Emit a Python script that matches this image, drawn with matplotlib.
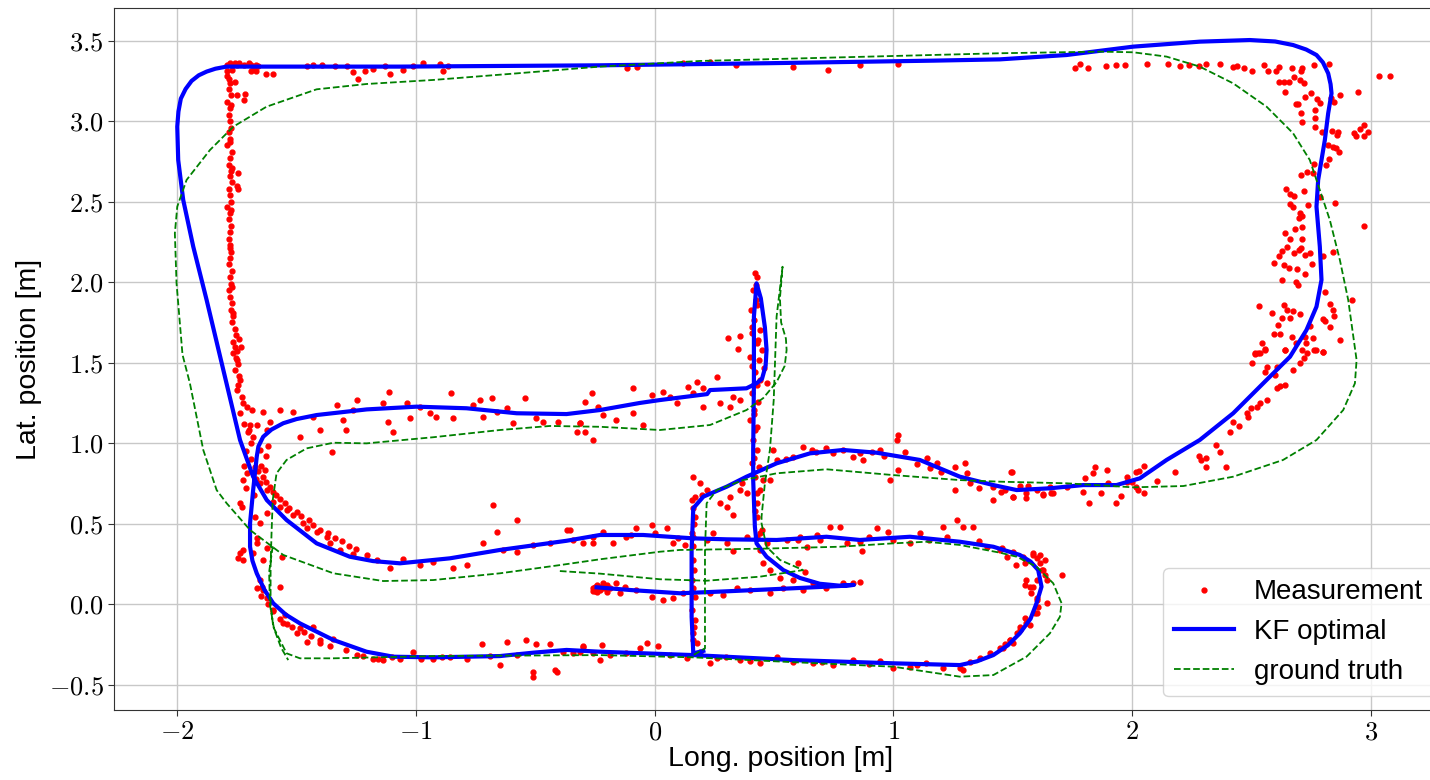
import numpy as np
import matplotlib
matplotlib.use('Agg')
import matplotlib.pyplot as plt

plt.rcParams['mathtext.fontset'] = 'cm'
plt.rcParams['font.family'] = ['Liberation Sans', 'DejaVu Sans']

# KF optimal estimate (blue), traced in driving order
kf_path = [
    (-0.243, 0.105), (-0.10, 0.088), (0.106, 0.068), (0.30, 0.080), (0.58, 0.099), (0.776, 0.113), (0.835, 0.12),
    (0.776, 0.115), (0.692, 0.127), (0.609, 0.163), (0.539, 0.212), (0.469, 0.295), (0.427, 0.378), (0.42, 0.482),
    (0.413, 0.771), (0.413, 0.958), (0.416, 1.372), (0.416, 1.786), (0.427, 1.993), (0.445, 1.90), (0.462, 1.72),
    (0.469, 1.58), (0.465, 1.48), (0.45, 1.40), (0.427, 1.372),
    (0.385, 1.341), (0.232, 1.33), (0.22, 1.305), (0.022, 1.268), (-0.062, 1.25), (-0.229, 1.206), (-0.369, 1.181),
    (-0.578, 1.186), (-0.788, 1.217), (-0.997, 1.227), (-1.206, 1.21), (-1.416, 1.175), (-1.50, 1.15),
    (-1.556, 1.124), (-1.605, 1.085), (-1.64, 1.04), (-1.66, 0.98), (-1.667, 0.916), (-1.682, 0.709),
    (-1.695, 0.503), (-1.695, 0.357), (-1.685, 0.27), (-1.667, 0.192), (-1.635, 0.09), (-1.598, 0.006),
    (-1.545, -0.065), (-1.486, -0.119), (-1.346, -0.222), (-1.207, -0.295), (-1.095, -0.326), (-0.928, -0.33),
    (-0.648, -0.322), (-0.509, -0.301), (-0.369, -0.284), (-0.229, -0.295), (0.162, -0.316), (0.581, -0.347),
    (1.0, -0.367), (1.279, -0.378), (1.35, -0.355), (1.419, -0.316), (1.48, -0.255), (1.53, -0.181),
    (1.575, -0.09), (1.60, 0.006), (1.621, 0.109), (1.607, 0.212), (1.575, 0.265), (1.53, 0.306),
    (1.419, 0.357), (1.279, 0.388), (1.07, 0.419), (0.86, 0.399), (0.72, 0.419), (0.511, 0.399),
    (0.302, 0.403), (0.162, 0.409), (-0.048, 0.43), (-0.229, 0.43), (-0.369, 0.394), (-0.648, 0.337),
    (-0.858, 0.285), (-1.067, 0.254), (-1.18, 0.268), (-1.277, 0.295), (-1.416, 0.378), (-1.542, 0.523),
    (-1.625, 0.647), (-1.682, 0.792), (-1.737, 1.02), (-1.807, 1.455), (-1.877, 1.89), (-1.933, 2.221),
    (-1.975, 2.511), (-1.996, 2.759), (-2.0, 2.966), (-1.995, 3.06), (-1.985, 3.14), (-1.965, 3.2),
    (-1.94, 3.25), (-1.91, 3.285), (-1.877, 3.308), (-1.84, 3.326), (-1.793, 3.339),
    (-1.067, 3.339), (-0.229, 3.347), (0.469, 3.36), (1.167, 3.376), (1.447, 3.384), (1.726, 3.411),
    (2.005, 3.463), (2.284, 3.494), (2.494, 3.504), (2.60, 3.495), (2.675, 3.473), (2.73, 3.445),
    (2.773, 3.411), (2.80, 3.365), (2.822, 3.297), (2.832, 3.23),
    (2.836, 3.173), (2.822, 3.049), (2.808, 2.883), (2.78, 2.635), (2.773, 2.469), (2.787, 2.221),
    (2.794, 2.014), (2.773, 1.848), (2.731, 1.703), (2.662, 1.537), (2.564, 1.393), (2.424, 1.186),
    (2.284, 1.02), (2.145, 0.896), (2.033, 0.782), (1.935, 0.74), (1.796, 0.74), (1.656, 0.72), (1.517, 0.709),
    (1.419, 0.74), (1.279, 0.792), (1.111, 0.896), (0.93, 0.941), (0.79, 0.958), (0.651, 0.937), (0.511, 0.875),
    (0.385, 0.792), (0.302, 0.73), (0.204, 0.668), (0.162, 0.596), (0.155, 0.337), (0.155, -0.078),
    (0.162, -0.305), (0.204, -0.29),
]

# ground truth (green dashed)
gt_main = [
    (-0.397, 0.206), (-0.229, 0.19), (0.022, 0.155), (0.218, 0.146), (0.441, 0.171), (0.622, 0.212),
    (0.525, 0.275), (0.469, 0.357), (0.448, 0.502), (0.448, 0.544), (0.462, 0.751), (0.483, 0.958),
    (0.499, 1.268), (0.506, 1.579), (0.511, 1.786), (0.536, 2.096), (0.525, 1.90), (0.53, 1.75), (0.55, 1.65),
    (0.553, 1.579), (0.545, 1.48), (0.511, 1.38), (0.455, 1.28), (0.385, 1.206), (0.232, 1.113), (0.022, 1.082),
    (-0.229, 1.102), (-0.439, 1.107), (-0.648, 1.082), (-0.928, 1.037), (-1.207, 0.999), (-1.346, 1.003),
    (-1.458, 0.968), (-1.542, 0.896), (-1.584, 0.813), (-1.60, 0.647), (-1.605, 0.44), (-1.609, 0.233),
    (-1.609, 0.006), (-1.598, -0.14), (-1.542, -0.305), (-1.486, -0.336), (-1.346, -0.336), (-0.928, -0.322),
    (-0.229, -0.316), (0.162, -0.33), (0.581, -0.36), (1.0, -0.388), (1.139, -0.419), (1.279, -0.45),
    (1.419, -0.44), (1.558, -0.326), (1.656, -0.181), (1.698, -0.078), (1.705, 0.006), (1.67, 0.13),
    (1.60, 0.233), (1.517, 0.295), (1.447, 0.32), (1.279, 0.368), (1.139, 0.388), (1.0, 0.378), (0.776, 0.357),
    (0.45, 0.345), (0.106, 0.337), (0.022, 0.326), (-0.229, 0.279), (-0.397, 0.243), (-0.648, 0.192),
    (-0.928, 0.15), (-1.137, 0.144), (-1.346, 0.192), (-1.556, 0.306), (-1.695, 0.461), (-1.793, 0.627),
    (-1.835, 0.709), (-1.891, 0.958), (-1.947, 1.372), (-1.978, 1.55), (-2.003, 1.993), (-2.01, 2.304),
    (-2.0, 2.469), (-1.961, 2.635), (-1.863, 2.821), (-1.765, 2.966), (-1.626, 3.09), (-1.416, 3.198),
    (-1.207, 3.231), (-0.928, 3.256), (-0.578, 3.297), (-0.229, 3.339), (0.19, 3.374), (0.888, 3.401),
    (1.447, 3.422), (1.866, 3.432), (2.005, 3.428), (2.145, 3.401), (2.284, 3.339), (2.424, 3.235),
    (2.564, 3.09), (2.675, 2.925), (2.745, 2.759), (2.787, 2.573), (2.829, 2.386), (2.871, 2.138),
    (2.906, 1.889), (2.941, 1.517), (2.934, 1.372), (2.885, 1.206), (2.773, 1.02), (2.633, 0.896),
    (2.424, 0.792), (2.215, 0.734), (2.005, 0.726), (1.726, 0.751), (1.447, 0.761), (1.279, 0.771),
    (1.0, 0.802), (0.72, 0.838), (0.511, 0.813), (0.371, 0.771), (0.26, 0.709), (0.218, 0.627),
    (0.211, 0.337), (0.211, -0.078), (0.211, -0.274), (0.162, -0.316),
]
gt_stub = [(-1.60, 0.36), (-1.615, 0.2), (-1.612, 0.0), (-1.595, -0.15), (-1.565, -0.27), (-1.535, -0.347)]

# measurements (red dots), grouped by stretch of track
meas_left_col = [
    (-1.79, 3.28), (-1.78, 3.24), (-1.785, 3.2), (-1.775, 3.16), (-1.79, 3.12), (-1.78, 3.08), (-1.785, 3.04),
    (-1.78, 3.0), (-1.775, 2.96), (-1.785, 2.93), (-1.78, 2.89), (-1.79, 2.85), (-1.77, 2.81), (-1.78, 2.77),
    (-1.785, 2.73), (-1.775, 2.69), (-1.78, 2.66), (-1.77, 2.62), (-1.785, 2.58), (-1.78, 2.54), (-1.775, 2.5),
    (-1.79, 2.47), (-1.78, 2.43), (-1.785, 2.39), (-1.775, 2.35), (-1.78, 2.31), (-1.785, 2.27), (-1.78, 2.23),
    (-1.775, 2.19), (-1.78, 2.15), (-1.785, 2.11), (-1.77, 2.07), (-1.78, 2.03), (-1.775, 1.99), (-1.785, 1.95),
    (-1.78, 1.91), (-1.77, 1.87), (-1.775, 1.83), (-1.765, 1.79), (-1.77, 1.75), (-1.76, 1.71), (-1.755, 1.67),
    (-1.765, 1.63), (-1.76, 1.6), (-1.75, 1.57), (-1.755, 1.53), (-1.745, 2.68), (-1.75, 2.6), (-1.745, 2.58),
    (-1.74, 1.65), (-1.735, 1.6), (-1.76, 3.245), (-1.75, 3.16), (-1.72, 3.13), (-1.716, 3.17),
    (-1.765, 1.558), (-1.751, 1.517), (-1.758, 1.455), (-1.737, 1.393), (-1.751, 1.331), (-1.73, 1.29),
    (-1.723, 1.248), (-1.737, 1.186), (-1.709, 1.227), (-1.688, 1.206), (-1.695, 1.113), (-1.702, 1.072),
    (-1.785, 3.26), (-1.775, 3.1), (-1.78, 2.87), (-1.77, 2.71), (-1.775, 2.45), (-1.78, 2.21), (-1.77, 1.97),
    (-1.765, 1.81), (-1.745, 1.49), (-1.74, 1.42), (-1.745, 1.36),
]
meas_top = [
    (-1.79, 3.35), (-1.78, 3.36), (-1.77, 3.35), (-1.76, 3.36), (-1.75, 3.35), (-1.74, 3.36), (-1.72, 3.35),
    (-1.70, 3.36), (-1.69, 3.35), (-1.68, 3.33), (-1.67, 3.35), (-1.66, 3.34), (-1.79, 3.31), (-1.77, 3.32),
    (-1.69, 3.31), (-1.67, 3.31), (-1.63, 3.29), (-1.60, 3.29),
    (-1.457, 3.345), (-1.43, 3.35), (-1.395, 3.35), (-1.339, 3.345), (-1.29, 3.345), (-1.263, 3.308),
    (-1.242, 3.262), (-1.214, 3.31), (-1.179, 3.325), (-1.13, 3.345), (-1.109, 3.29), (-1.053, 3.318),
    (-1.011, 3.345), (-0.969, 3.36), (-0.9, 3.355), (-0.886, 3.31), (-0.865, 3.34),
    (-0.117, 3.328), (-0.075, 3.339), (0.12, 3.36), (0.232, 3.366), (0.343, 3.35), (0.581, 3.339),
    (0.725, 3.318), (0.86, 3.349), (1.018, 3.353),
]
meas_top_right = [
    (1.761, 3.333), (1.782, 3.353), (1.814, 3.331), (1.891, 3.345), (1.933, 3.349), (1.97, 3.349),
    (2.065, 3.353), (2.152, 3.355), (2.20, 3.345), (2.24, 3.349), (2.282, 3.343), (2.31, 3.355),
    (2.368, 3.353), (2.424, 3.335), (2.44, 3.345), (2.47, 3.33), (2.503, 3.314), (2.554, 3.349),
    (2.568, 3.312), (2.605, 3.312), (2.617, 3.339), (2.671, 3.333), (2.714, 3.33), (2.71, 3.31),
    (2.763, 3.349), (2.826, 3.355), (2.614, 3.241), (2.635, 3.245), (2.656, 3.245), (2.677, 3.276),
    (2.705, 3.255), (2.719, 3.235), (2.64, 3.181), (2.687, 3.105), (2.697, 3.105), (2.723, 3.148),
    (2.751, 3.173), (2.775, 3.138), (2.789, 3.11), (2.768, 3.069), (2.71, 3.053), (2.713, 2.997),
    (2.768, 3.018), (2.765, 2.962), (2.834, 3.142), (2.848, 3.12), (2.871, 3.161), (2.947, 3.179),
    (3.036, 3.283), (3.08, 3.283),
]
meas_right = [
    (2.797, 2.931), (2.839, 2.939), (2.864, 2.935), (2.861, 2.914), (2.931, 2.929), (2.955, 2.95),
    (2.971, 2.976), (2.989, 2.935), (2.937, 2.91), (2.972, 2.906), (2.82, 2.852), (2.841, 2.842),
    (2.855, 2.831), (2.869, 2.811), (2.824, 2.763), (2.813, 2.728), (2.764, 2.735), (2.732, 2.682),
    (2.708, 2.666), (2.757, 2.676), (2.787, 2.531), (2.85, 2.494), (2.722, 2.566), (2.645, 2.577),
    (2.66, 2.546), (2.677, 2.535), (2.663, 2.485), (2.674, 2.465), (2.737, 2.482), (2.705, 2.428),
    (2.714, 2.412), (2.698, 2.397), (2.642, 2.307), (2.684, 2.328), (2.712, 2.345), (2.97, 2.351),
    (2.66, 2.266), (2.712, 2.268), (2.649, 2.221), (2.628, 2.196), (2.677, 2.18), (2.698, 2.2),
    (2.71, 2.211), (2.726, 2.17), (2.747, 2.18), (2.614, 2.163), (2.597, 2.118), (2.635, 2.108),
    (2.656, 2.087), (2.691, 2.08), (2.756, 2.114), (2.726, 2.051), (2.628, 2.014), (2.687, 2.003),
    (2.694, 1.983), (2.80, 2.163), (2.841, 2.186), (2.809, 1.941), (2.92, 1.889), (2.533, 1.852),
    (2.585, 1.807), (2.635, 1.858), (2.649, 1.827), (2.674, 1.823), (2.705, 1.803), (2.83, 1.864),
    (2.841, 1.827), (2.848, 1.79), (2.81, 1.761), (2.80, 1.772), (2.61, 1.734), (2.627, 1.776),
    (2.663, 1.78), (2.595, 1.676), (2.62, 1.676), (2.672, 1.658), (2.745, 1.728), (2.83, 1.724),
    (2.871, 1.641), (2.723, 1.662), (2.759, 1.651), (2.543, 1.624), (2.526, 1.562), (2.515, 1.554),
    (2.559, 1.583), (2.64, 1.579), (2.688, 1.62), (2.73, 1.624), (2.77, 1.579), (2.80, 1.568), (2.72, 1.532),
]
meas_lower_right = [
    (2.517, 1.562), (2.538, 1.558), (2.559, 1.579), (2.503, 1.496), (2.565, 1.475), (2.559, 1.444),
    (2.606, 1.475), (2.599, 1.424), (2.643, 1.579), (2.713, 1.579), (2.733, 1.562), (2.761, 1.579),
    (2.80, 1.569), (2.703, 1.496), (2.675, 1.455), (2.64, 1.361), (2.622, 1.355), (2.606, 1.341),
    (2.564, 1.268), (2.536, 1.248), (2.522, 1.223), (2.50, 1.217), (2.48, 1.19), (2.487, 1.165),
    (2.449, 1.107), (2.424, 1.134), (2.41, 1.072), (2.354, 0.989), (2.368, 0.947), (2.394, 0.854),
    (2.312, 0.906), (2.28, 0.92), (2.29, 0.895), (2.312, 0.854), (2.18, 0.823), (2.103, 0.765),
    (2.052, 0.858), (2.03, 0.83), (2.017, 0.823), (1.98, 0.792), (1.98, 0.761), (2.002, 0.761),
    (2.017, 0.73), (2.026, 0.709), (2.05, 0.693), (1.953, 0.672), (1.932, 0.626), (1.901, 0.751),
    (1.87, 0.693), (1.818, 0.631), (1.796, 0.699), (1.803, 0.782), (1.845, 0.85), (1.838, 0.813),
    (1.894, 0.834), (1.726, 0.73), (1.661, 0.689), (1.626, 0.684), (1.557, 0.657), (1.565, 0.737),
    (1.531, 0.733), (1.496, 0.82), (1.503, 0.668), (1.468, 0.709), (1.60, 0.709), (1.656, 0.73),
]
meas_upper_lobe = [
    (0.162, 0.792), (0.19, 0.751), (0.169, 0.668), (0.197, 0.679), (0.218, 0.709), (0.274, 0.627),
    (0.302, 0.606), (0.33, 0.554), (0.316, 0.668), (0.358, 0.709), (0.365, 0.751),
    (0.511, 0.896), (0.581, 0.916), (0.622, 0.979), (0.678, 0.947), (0.72, 0.968), (0.748, 0.937),
    (0.79, 0.958), (0.832, 0.916), (0.874, 0.896), (0.909, 0.947), (0.944, 0.958), (0.986, 0.772),
    (1.021, 1.051), (1.014, 1.02), (1.049, 0.947), (1.021, 0.834), (1.14, 0.906), (1.153, 0.844),
    (1.181, 0.875), (1.258, 0.854), (1.30, 0.875), (1.307, 0.813), (1.258, 0.709), (1.321, 0.751),
    (1.419, 0.73), (1.419, 0.647), (1.502, 0.668), (1.495, 0.823), (1.558, 0.689), (1.628, 0.679),
    (1.67, 0.689), (0.55, 0.90), (0.66, 0.96), (0.86, 0.94), (0.96, 0.92), (1.10, 0.87), (1.20, 0.82),
    (1.36, 0.72), (1.45, 0.70),
]
meas_upper_mid = [
    (-1.57, 1.206), (-1.514, 1.196), (-1.486, 1.041), (-1.43, 1.165), (-1.402, 1.082), (-1.332, 1.237),
    (-1.304, 1.144), (-1.263, 1.206), (-1.249, 1.268), (-1.291, 1.082), (-1.353, 0.947), (-1.137, 1.248),
    (-1.112, 1.32), (-1.116, 1.134), (-1.095, 1.072), (-1.039, 1.248), (-1.025, 1.155), (-0.984, 1.227),
    (-0.942, 1.186), (-0.914, 1.165), (-0.851, 1.31), (-0.844, 1.155), (-0.76, 1.237), (-0.732, 1.268),
    (-0.718, 1.165), (-0.683, 1.279), (-0.662, 1.196), (-0.62, 1.217), (-0.543, 1.279), (-0.592, 1.124),
    (-0.495, 1.155), (-0.467, 1.134), (-0.404, 1.134), (-0.313, 1.124), (-0.292, 1.258), (-0.264, 1.31),
    (-0.257, 1.02), (-0.327, 1.072), (-0.236, 1.227), (-0.313, 1.124), (-0.292, 1.072), (-0.215, 1.175),
    (-0.16, 1.144), (-0.09, 1.341), (-0.09, 1.186), (-0.048, 1.113), (-0.013, 1.30), (0.036, 1.32),
    (0.064, 1.289), (0.092, 1.248), (0.141, 1.351), (0.176, 1.382), (0.162, 1.31), (0.204, 1.341),
    (0.26, 1.413), (0.204, 1.227), (0.274, 1.248), (0.316, 1.227), (0.33, 1.289), (0.358, 1.268),
    (0.309, 1.651), (0.358, 1.668), (0.351, 1.586),
]
meas_spike = [
    (0.42, 2.055), (0.43, 2.034), (0.411, 1.951), (0.424, 1.889), (0.402, 1.827), (0.416, 1.765),
    (0.441, 1.703), (0.406, 1.682), (0.427, 1.62), (0.448, 1.579), (0.399, 1.537), (0.438, 1.517),
    (0.458, 1.465), (0.42, 1.444), (0.441, 1.393), (0.469, 1.372), (0.406, 1.31), (0.434, 1.258),
    (0.416, 1.206), (0.399, 1.144), (0.42, 1.082), (0.411, 1.02), (0.427, 0.958), (0.406, 0.875),
    (0.438, 0.854), (0.42, 0.792), (0.455, 0.772), (0.483, 0.772), (0.497, 0.958), (0.441, 0.71),
    (0.385, 0.689), (0.427, 0.627), (0.43, 0.544), (0.448, 0.461), (0.427, 0.42),
    (0.441, 0.337), (0.455, 0.254), (0.483, 0.212), (0.525, 0.16), (0.581, 0.15), (0.602, 0.254),
    (0.63, 0.202), (0.664, 0.129), (0.72, 0.098), (0.79, 0.129), (0.832, 0.129), (0.86, 0.14),
    (0.425, 1.98), (0.43, 1.86), (0.41, 1.72), (0.435, 1.64), (0.41, 1.48), (0.43, 1.36), (0.415, 1.18),
    (0.43, 1.10), (0.415, 0.91), (0.43, 0.69), (0.42, 0.58),
]
meas_lower_mid = [
    (-0.369, 0.461), (-0.341, 0.399), (-0.257, 0.378), (-0.215, 0.451), (-0.174, 0.378), (-0.118, 0.42),
    (-0.076, 0.471), (-0.013, 0.492), (0.05, 0.471), (0.078, 0.378), (0.127, 0.368), (0.162, 0.42),
    (0.246, 0.44), (0.302, 0.378), (0.33, 0.33), (0.385, 0.42), (0.441, 0.44), (0.469, 0.378),
    (0.553, 0.399), (0.609, 0.42), (0.637, 0.358), (0.693, 0.399), (0.734, 0.482), (0.776, 0.482),
    (0.804, 0.378), (0.86, 0.389), (0.867, 0.33), (0.93, 0.471), (0.979, 0.451), (1.07, 0.378),
    (1.111, 0.44), (1.209, 0.482), (1.265, 0.523), (1.293, 0.482), (1.335, 0.482), (1.223, 0.42),
    (1.391, 0.358), (1.447, 0.337), (1.475, 0.295), (1.516, 0.244),
    (-0.355, 0.461), (-0.299, 0.378), (-0.257, 0.42), (-0.439, 0.378), (-0.509, 0.368), (-0.578, 0.326),
    (-0.634, 0.337), (-0.662, 0.451), (-0.578, 0.523), (-0.676, 0.616), (-0.718, 0.378), (-0.788, 0.244),
    (-0.844, 0.223), (-0.928, 0.264), (-0.984, 0.244), (-1.053, 0.279), (-1.109, 0.223), (-1.165, 0.275),
    (-1.207, 0.306), (-1.263, 0.312), (-1.318, 0.337), (-1.36, 0.378), (-1.374, 0.42), (-1.416, 0.451),
    (-0.10, 0.43), (0.0, 0.44), (0.10, 0.41), (0.22, 0.40), (0.60, 0.40), (0.68, 0.43), (0.90, 0.42),
    (1.0, 0.40), (1.15, 0.40), (1.36, 0.39),
]
meas_mid = [
    (-0.26, 0.10), (-0.25, 0.08), (-0.24, 0.12), (-0.23, 0.09), (-0.25, 0.11), (-0.22, 0.11), (-0.26, 0.085),
    (-0.21, 0.10), (-0.24, 0.075), (-0.20, 0.12), (-0.229, 0.109), (-0.215, 0.129), (-0.201, 0.078),
    (-0.188, 0.098), (-0.16, 0.129), (-0.146, 0.067), (-0.125, 0.109), (-0.076, 0.088), (-0.013, 0.047),
    (0.036, 0.026), (0.078, 0.036), (0.12, 0.067), (0.232, 0.067), (0.288, 0.057), (0.344, 0.098),
    (0.40, 0.088), (0.483, 0.067), (0.539, 0.098), (0.623, 0.088),
]
meas_vertical = [
    (0.155, 0.647), (0.169, 0.544), (0.155, 0.44), (0.162, 0.275), (0.155, 0.15), (0.169, 0.047),
    (0.155, -0.037), (0.169, -0.099), (0.162, -0.181), (0.176, -0.243), (0.19, -0.295),
    (0.16, 0.60), (0.165, 0.50), (0.16, 0.36), (0.165, 0.21), (0.16, 0.10), (0.165, -0.14), (0.16, -0.22),
]
meas_bottom = [
    (1.209, -0.398), (1.139, -0.367), (1.07, -0.388), (1.0, -0.398), (0.944, -0.35), (0.832, -0.347),
    (0.748, -0.378), (0.664, -0.367), (0.581, -0.357), (0.511, -0.33), (0.441, -0.367), (0.357, -0.347),
    (0.26, -0.337), (0.232, -0.367), (0.134, -0.337), (0.064, -0.316), (0.015, -0.261), (-0.034, -0.24),
    (-0.062, -0.275), (-0.118, -0.306), (-0.188, -0.316), (-0.222, -0.254), (-0.257, -0.306),
    (-0.299, -0.261), (-0.34, -0.306), (-0.383, -0.295), (-0.229, -0.346), (-0.299, -0.263),
    (-0.313, -0.295), (-0.411, -0.419), (-0.418, -0.408), (-0.509, -0.45), (-0.509, -0.419),
    (-0.439, -0.245), (-0.495, -0.245), (-0.537, -0.223), (-0.578, -0.316), (-0.62, -0.233),
    (-0.648, -0.378), (-0.69, -0.322), (-0.725, -0.245), (-0.788, -0.338), (-0.858, -0.328),
    (-0.928, -0.338), (-1.011, -0.296), (-1.067, -0.338), (-1.137, -0.349), (-1.179, -0.338),
    (-1.249, -0.316), (-1.291, -0.285), (-1.22, -0.32), (-1.16, -0.34), (-1.10, -0.33), (-0.98, -0.34),
    (-0.89, -0.33), (0.30, -0.33), (0.40, -0.35), (0.70, -0.36), (0.90, -0.37), (1.10, -0.38),
]
meas_right_loop = [
    (1.586, 0.316), (1.614, 0.306), (1.635, 0.275), (1.621, 0.212), (1.635, 0.181), (1.551, 0.254),
    (1.558, 0.15), (1.586, 0.109), (1.60, 0.026), (1.579, 0.067), (1.593, -0.057), (1.558, -0.119),
    (1.53, -0.161), (1.488, -0.223), (1.447, -0.275), (1.405, -0.306), (1.363, -0.337), (1.321, -0.357),
    (1.279, -0.399), (1.293, -0.409), (1.456, 0.347), (1.503, 0.326), (1.545, 0.295), (1.587, 0.306),
    (1.615, 0.254), (1.60, 0.285), (1.629, 0.212), (1.643, 0.15), (1.60, 0.15), (1.552, 0.119),
    (1.573, 0.109), (1.705, 0.181), (1.60, 0.037), (1.608, -0.016), (1.643, 0.006), (1.60, -0.057),
    (1.552, -0.088), (1.573, -0.13), (1.53, -0.14), (1.517, -0.181), (1.489, -0.223), (1.468, -0.244),
    (1.503, -0.24), (1.461, -0.274),
]
meas_left_lower = [
    (-1.346, -0.213), (-1.402, -0.223), (-1.43, -0.14), (-1.458, -0.233), (-1.486, -0.15), (-1.50, -0.181),
    (-1.549, -0.067), (-1.556, -0.119), (-1.625, 0.036), (-1.639, 0.088), (-1.653, 0.15), (-1.646, 0.109),
    (-1.57, 0.109), (-1.598, -0.037), (-1.667, 0.378), (-1.723, 0.337), (-1.737, 0.316), (-1.744, 0.285),
    (-1.723, 0.275), (-1.681, 0.316), (-1.639, 0.275), (-1.625, 0.347), (-1.563, 0.295), (-1.667, 0.409),
    (-1.667, 0.10), (-1.65, 0.05), (-1.62, 0.0), (-1.60, -0.04), (-1.57, -0.09), (-1.54, -0.12),
    (-1.52, -0.14), (-1.47, -0.17), (-1.44, -0.20), (-1.40, -0.24), (-1.36, -0.26),
    (-1.681, 1.041), (-1.667, 1.113), (-1.639, 1.196), (-1.611, 1.134), (-1.625, 1.082), (-1.653, 0.958),
    (-1.709, 0.813), (-1.723, 0.772), (-1.674, 0.854), (-1.632, 0.834), (-1.653, 0.751), (-1.625, 0.709),
    (-1.737, 0.627), (-1.73, 0.606), (-1.674, 0.544), (-1.653, 0.502), (-1.625, 0.565), (-1.597, 0.637),
    (-1.57, 0.606), (-1.542, 0.585), (-1.514, 0.554), (-1.472, 0.502), (-1.458, 0.471),
    (-1.72, 1.12), (-1.70, 1.08), (-1.69, 1.0), (-1.71, 0.95), (-1.69, 0.90), (-1.72, 0.86), (-1.67, 0.78),
    (-1.71, 0.72), (-1.68, 0.68), (-1.65, 0.86), (-1.63, 0.92), (-1.62, 0.98),
    (-1.66, 0.83), (-1.64, 0.79), (-1.63, 0.76), (-1.61, 0.73), (-1.60, 0.70), (-1.585, 0.68),
    (-1.57, 0.655), (-1.55, 0.63), (-1.53, 0.60), (-1.50, 0.575), (-1.48, 0.55), (-1.45, 0.52),
    (-1.43, 0.49), (-1.40, 0.46), (-1.37, 0.44), (-1.34, 0.41), (-1.31, 0.39), (-1.28, 0.36), (-1.25, 0.34),
]

yticks = [-0.5, 0.0, 0.5, 1.0, 1.5, 2.0, 2.5, 3.0, 3.5]
xticks = [-2, -1, 0, 1, 2, 3]

meas = np.array(meas_left_col + meas_top + meas_top_right + meas_right + meas_lower_right
                + meas_upper_lobe + meas_upper_mid + meas_spike + meas_lower_mid + meas_mid
                + meas_vertical + meas_bottom + meas_right_loop + meas_left_lower)
kf = np.array(kf_path)
gt = np.array(gt_main + [(np.nan, np.nan)] + gt_stub)

fig = plt.figure(figsize=(14.3, 7.8), dpi=100)
# right spine sits just past the canvas edge, as in the cropped original
ax = fig.add_axes([114 / 1430, 70 / 780, 1334 / 1430, 702 / 780])

ax.plot(meas[:, 0], meas[:, 1], 'r.', ms=7, label='Measurement')
ax.plot(kf[:, 0], kf[:, 1], 'b-', lw=3, label='KF optimal')
ax.plot(gt[:, 0], gt[:, 1], 'g--', lw=1.3, label='ground truth')

ax.set_xlim(-2.265, 3.324)
ax.set_ylim(-0.657, 3.703)
ax.set_xticks(xticks)
ax.set_xticklabels(['$%d$' % t for t in xticks])
ax.set_yticks(yticks)
ax.set_yticklabels(['$%.1f$' % t for t in yticks])
ax.tick_params(labelsize=19, length=4, color='#333333')
ax.grid(True, color='#c8c8c8', lw=1)
ax.set_axisbelow(True)
for s in ax.spines.values():
    s.set_color('#333333')

ax.set_xlabel('Long. position [m]', fontsize=20.5, labelpad=1)
ax.set_ylabel('Lat. position [m]', fontsize=20.5, labelpad=5)
ax.legend(loc='lower right', fontsize=20, handlelength=2.15, handletextpad=0.72,
          framealpha=0.8)

fig.savefig('out.png', dpi=100)
